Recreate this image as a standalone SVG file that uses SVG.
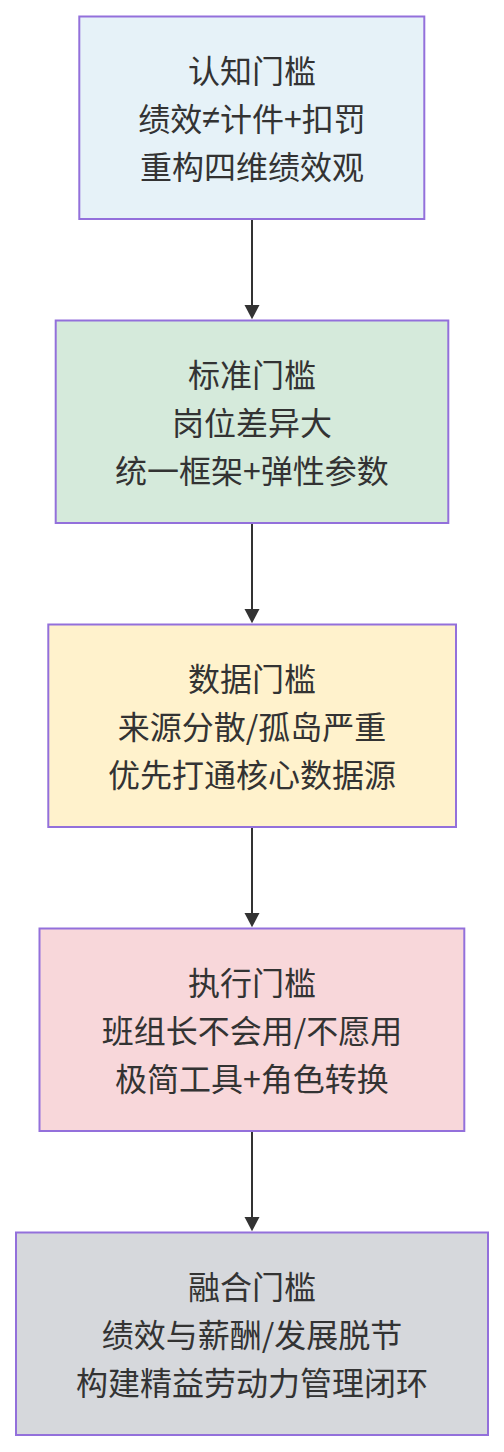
<svg xmlns="http://www.w3.org/2000/svg" width="504" height="1452" viewBox="0 0 504 1452">
<style>
.node rect{stroke:#9370DB;stroke-width:2}
.node text{font-family:"Noto Sans CJK SC","Liberation Sans",sans-serif;font-size:32px;fill:#333;text-anchor:middle;dominant-baseline:central}
.lat{font-family:"Liberation Sans",sans-serif}
.edge{stroke:#333;stroke-width:2;fill:none}
.head{fill:#333}
</style>
<rect width="504" height="1452" fill="#fff"/>
<g id="connectors">
<line class="edge" x1="252" y1="219.5" x2="252" y2="306"/>
<path class="head" d="M244.5,305 L259.5,305 L252,319.3 Z"/>
<line class="edge" x1="252" y1="523.5" x2="252" y2="610"/>
<path class="head" d="M244.5,609 L259.5,609 L252,623.3 Z"/>
<line class="edge" x1="252" y1="827.5" x2="252" y2="914"/>
<path class="head" d="M244.5,913 L259.5,913 L252,927.3 Z"/>
<line class="edge" x1="252" y1="1131.5" x2="252" y2="1218"/>
<path class="head" d="M244.5,1217 L259.5,1217 L252,1231.3 Z"/>
</g>
<g id="n1" class="node">
<rect x="79.3" y="16.5" width="345" height="202.5" fill="#e6f2f8"/>
<text x="252" y="69">认知门槛</text>
<text x="252" y="117">绩效<tspan class="lat">≠</tspan>计件+扣罚</text>
<text x="252" y="165">重构四维绩效观</text>
</g>
<g id="n2" class="node">
<rect x="55.7" y="320.5" width="392.6" height="202.5" fill="#d5eadb"/>
<text x="252" y="373">标准门槛</text>
<text x="252" y="421">岗位差异大</text>
<text x="252" y="469">统一框架+弹性参数</text>
</g>
<g id="n3" class="node">
<rect x="48.3" y="624.5" width="407.7" height="202.5" fill="#fff2cc"/>
<text x="252" y="677">数据门槛</text>
<text x="252" y="725">来源分散/孤岛严重</text>
<text x="252" y="773">优先打通核心数据源</text>
</g>
<g id="n4" class="node">
<rect x="39.5" y="928.5" width="424.8" height="202.5" fill="#f8d7da"/>
<text x="252" y="981">执行门槛</text>
<text x="252" y="1029">班组长不会用/不愿用</text>
<text x="252" y="1077">极简工具+角色转换</text>
</g>
<g id="n5" class="node">
<rect x="16" y="1232.5" width="472" height="202.5" fill="#d6d8dc"/>
<text x="252" y="1285">融合门槛</text>
<text x="252" y="1333">绩效与薪酬/发展脱节</text>
<text x="252" y="1381">构建精益劳动力管理闭环</text>
</g>
</svg>
